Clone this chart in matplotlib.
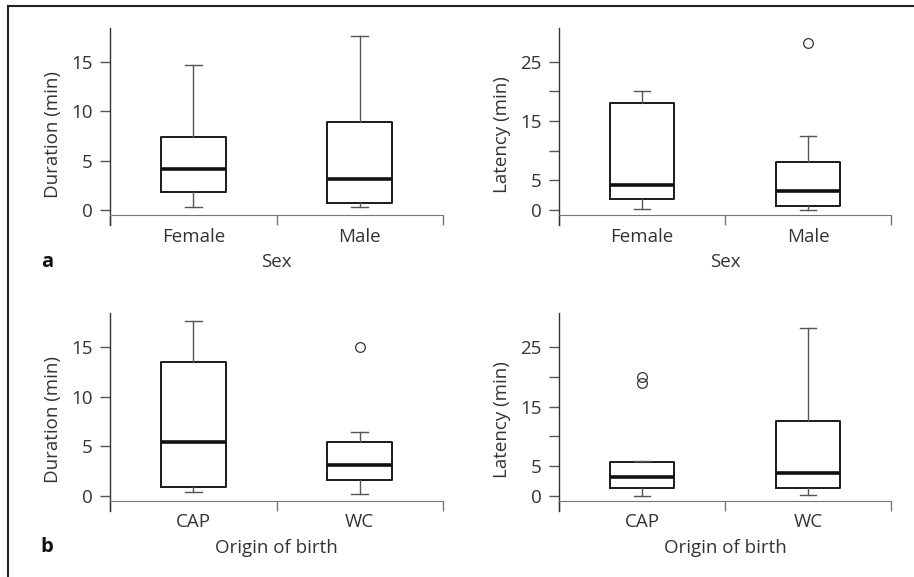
import numpy as np
import matplotlib
matplotlib.use("Agg")
import matplotlib.pyplot as plt
from matplotlib.lines import Line2D

plt.rcParams["font.family"] = ["Open Sans", "DejaVu Sans"]

sex_labels = ["Female", "Male"]
origin_labels = ["CAP", "WC"]

# duration by sex
dur_sex_whislo = [0.35, 0.35]
dur_sex_q1 = [1.8, 0.7]
dur_sex_med = [4.2, 3.1]
dur_sex_q3 = [7.4, 8.9]
dur_sex_whishi = [14.7, 17.6]
dur_sex_fliers = [[], []]

# latency by sex
lat_sex_whislo = [0.2, 0.0]
lat_sex_q1 = [1.8, 0.75]
lat_sex_med = [4.2, 3.2]
lat_sex_q3 = [18.1, 8.1]
lat_sex_whishi = [20.1, 12.4]
lat_sex_fliers = [[], [28.1]]

# duration by origin of birth
dur_org_whislo = [0.35, 0.2]
dur_org_q1 = [0.95, 1.65]
dur_org_med = [5.4, 3.15]
dur_org_q3 = [13.55, 5.4]
dur_org_whishi = [17.6, 6.4]
dur_org_fliers = [[], [15.0]]

# latency by origin of birth
lat_org_whislo = [0.0, 0.2]
lat_org_q1 = [1.25, 1.25]
lat_org_med = [3.2, 3.9]
lat_org_q3 = [5.75, 12.6]
lat_org_whishi = [5.9, 28.1]
lat_org_fliers = [[19.9, 19.0], []]

W, H = 914, 577
TXT = "#333333"
FS = 13.5


def make_stats(lo, q1, med, q3, hi, fl):
    return [dict(whislo=lo[i], q1=q1[i], med=med[i], q3=q3[i], whishi=hi[i],
                 fliers=np.array(fl[i])) for i in range(len(med))]


def panel(fig, rect_px, stats, labels, ymax, yticks, ylabels, ylab, xlab):
    x0, y_top, x1, y_bot = rect_px
    ax = fig.add_axes([x0 / W, 1 - y_bot / H, (x1 - x0) / W, (y_bot - y_top) / H])
    ax.bxp(stats, positions=[1, 2], widths=0.39, capwidths=0.1,
           boxprops=dict(color="#1a1a1a", linewidth=1.4),
           whiskerprops=dict(color="#555555", linewidth=1.0),
           capprops=dict(color="#555555", linewidth=1.0),
           medianprops=dict(color="#111111", linewidth=2.6, solid_capstyle="butt"),
           flierprops=dict(marker="o", markersize=7, markerfacecolor="none",
                           markeredgecolor="#333333", markeredgewidth=0.9))
    ymin = -ymax * 15 / 182
    ax.set_ylim(ymin, ymax)
    ax.set_xlim(0.5, 2.5)
    for s in ["top", "right"]:
        ax.spines[s].set_visible(False)
    ax.spines["bottom"].set_position(("data", -ymax * 5 / 182))
    ax.spines["bottom"].set_color("#777777")
    ax.spines["left"].set_color("#333333")
    ax.spines["left"].set_linewidth(1.0)
    ax.set_xticks([0.5, 1.5, 2.5])
    ax.set_xticklabels([])
    ax.set_xticks([1, 2], minor=True)
    ax.set_xticklabels(labels, minor=True)
    ax.tick_params(axis="x", which="major", direction="out", length=7.5,
                   color="#777777", width=1.0)
    ax.tick_params(axis="x", which="minor", length=0, pad=9, labelsize=FS,
                   labelcolor=TXT)
    ax.set_yticks(yticks)
    ax.set_yticklabels(ylabels)
    ax.tick_params(axis="y", direction="out", length=7.5, width=1.0,
                   color="#555555", pad=5, labelsize=FS, labelcolor=TXT)
    ax.set_ylabel(ylab, fontsize=FS, color=TXT)
    ax.yaxis.set_label_coords(-0.145, 0.46)
    ax.set_xlabel(xlab, fontsize=FS, color=TXT)
    ax.xaxis.set_label_coords(0.5, -0.14)
    return ax


fig = plt.figure(figsize=(W / 100, H / 100), dpi=100)

panel(fig, (110, 28, 443, 225),
      make_stats(dur_sex_whislo, dur_sex_q1, dur_sex_med, dur_sex_q3, dur_sex_whishi, dur_sex_fliers),
      sex_labels, 18.45, [0, 5, 10, 15], ["0", "5", "10", "15"], "Duration (min)", "Sex")
panel(fig, (559, 28, 891, 225),
      make_stats(lat_sex_whislo, lat_sex_q1, lat_sex_med, lat_sex_q3, lat_sex_whishi, lat_sex_fliers),
      sex_labels, 30.7, [0, 5, 10, 15, 20, 25], ["0", "5", "", "15", "", "25"], "Latency (min)", "Sex")
panel(fig, (110, 313, 443, 511),
      make_stats(dur_org_whislo, dur_org_q1, dur_org_med, dur_org_q3, dur_org_whishi, dur_org_fliers),
      origin_labels, 18.45, [0, 5, 10, 15], ["0", "5", "10", "15"], "Duration (min)", "Origin of birth")
panel(fig, (559, 313, 891, 511),
      make_stats(lat_org_whislo, lat_org_q1, lat_org_med, lat_org_q3, lat_org_whishi, lat_org_fliers),
      origin_labels, 30.7, [0, 5, 10, 15, 20, 25], ["0", "5", "", "15", "", "25"], "Latency (min)", "Origin of birth")

fig.text(47 / W, 1 - 262 / H, "a", fontsize=14.5, fontweight="bold", color="#111111",
         ha="center", va="center")
fig.text(47 / W, 1 - 547 / H, "b", fontsize=14.5, fontweight="bold", color="#111111",
         ha="center", va="center")

# frame lines at top and left
fig.add_artist(Line2D([8 / W, 8 / W], [1 - 6 / H, 0], color="#222222", linewidth=1.5))
fig.add_artist(Line2D([8 / W, 1], [1 - 6 / H, 1 - 6 / H], color="#222222", linewidth=1.5))

fig.savefig("out.png", dpi=100)
